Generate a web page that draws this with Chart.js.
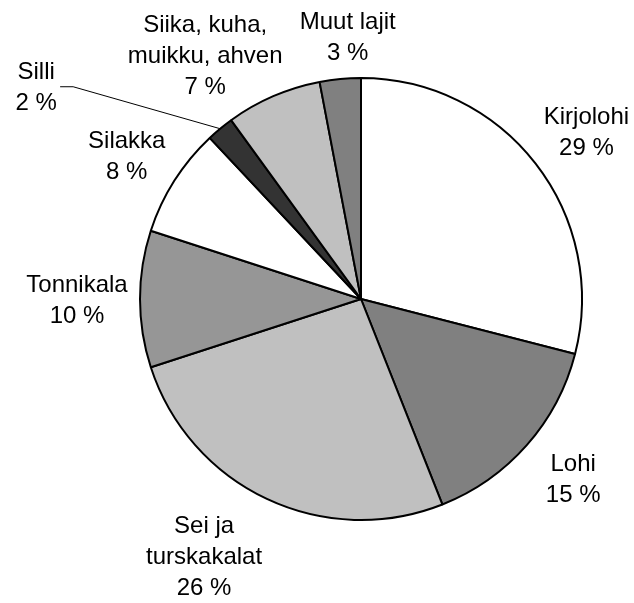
<!DOCTYPE html>
<html lang="fi">

<head>
    <meta charset="UTF-8">
    <title>Kalalajit</title>
    <script src="https://cdn.jsdelivr.net/npm/chart.js"></script>
    <style>
        body { margin: 0; background: #fff; }
    </style>
</head>

<body>
    <canvas id="myChart" width="634" height="603"></canvas>
    <script>
        // osuudet (%) myötäpäivään klo 12:sta alkaen
        const labels = [
            ['Kirjolohi'],
            ['Lohi'],
            ['Sei ja', 'turskakalat'],
            ['Tonnikala'],
            ['Silakka'],
            ['Silli'],
            ['Siika, kuha,', 'muikku, ahven'],
            ['Muut lajit']
        ];
        const shares = [29, 15, 26, 10, 8, 2, 7, 3];
        const colors = ['#ffffff', '#808080', '#c0c0c0', '#969696', '#ffffff', '#333333', '#c0c0c0', '#808080'];

        // tekstilohkon keskipiste suhteessa ympyrän keskipisteeseen (säteen osina)
        const labelOffsets = [
            [1.02, -0.76], [0.96, 0.81], [-0.71, 1.16], [-1.285, 0.0],
            [-1.06, -0.65], [-1.47, -0.965], [-0.705, -1.105], [-0.06, -1.19]
        ];
        const LINE = 31;

        const outsideLabels = {
            id: 'outsideLabels',
            afterDatasetsDraw(chart) {
                const ctx = chart.ctx;
                const arcs = chart.getDatasetMeta(0).data;
                ctx.save();
                ctx.font = '24px "Liberation Sans", Arial, sans-serif';
                ctx.fillStyle = '#000';
                ctx.textAlign = 'center';
                ctx.textBaseline = 'alphabetic';
                arcs.forEach((arc, i) => {
                    const r = arc.outerRadius;
                    const cx = arc.x + labelOffsets[i][0] * r;
                    const cy = arc.y + labelOffsets[i][1] * r;
                    const lines = labels[i].concat(shares[i] + ' %');
                    const y0 = cy - (lines.length - 1) * LINE / 2 + 8.6;
                    lines.forEach((t, k) => ctx.fillText(t, cx, y0 + k * LINE));

                    // Silli: viiva lohkoon
                    if (shares[i] < 3) {
                        const mid = (arc.startAngle + arc.endAngle) / 2;
                        ctx.beginPath();
                        ctx.strokeStyle = '#000';
                        ctx.lineWidth = 1;
                        ctx.moveTo(cx + 24, cy + 1);
                        ctx.lineTo(cx + 37, cy + 1);
                        ctx.lineTo(arc.x + Math.cos(mid) * r, arc.y + Math.sin(mid) * r);
                        ctx.stroke();
                    }
                });
                ctx.restore();
            }
        };

        new Chart(document.getElementById('myChart'), {
            type: 'pie',
            data: {
                labels: labels,
                datasets: [{
                    data: shares,
                    backgroundColor: colors,
                    borderColor: '#000',
                    borderWidth: 2
                }]
            },
            options: {
                responsive: false,
                animation: false,
                radius: 221,
                layout: { padding: { left: 140, right: 52, top: 78, bottom: 83 } },
                plugins: {
                    legend: { display: false },
                    tooltip: { enabled: false }
                }
            },
            plugins: [outsideLabels]
        });
    </script>
</body>

</html>
